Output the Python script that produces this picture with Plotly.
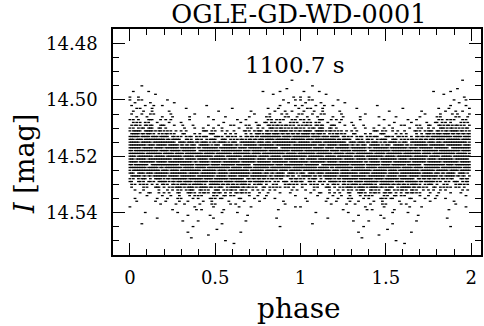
import plotly.graph_objects as go

# ---------------- data ----------------
title_text = "OGLE-GD-WD-0001"
period_label = "1100.7 s"
x_title = "phase"
y_title = "<i>I</i> [mag]"

x_tick_values = [0, 0.5, 1, 1.5, 2]
x_tick_labels = ["0", "0.5", "1", "1.5", "2"]
y_tick_values = [14.48, 14.50, 14.52, 14.54]
y_tick_labels = ["14.48", "14.50", "14.52", "14.54"]

# magnitudes are quantised in steps of 0.001 mag
mag_levels = [
    14.492, 14.493, 14.494, 14.495, 14.496, 14.497, 14.498, 14.499,
    14.500, 14.501, 14.502, 14.503, 14.504, 14.505, 14.506, 14.507,
    14.508, 14.509, 14.510, 14.511, 14.512, 14.513, 14.514, 14.515,
    14.516, 14.517, 14.518, 14.519, 14.520, 14.521, 14.522, 14.523,
    14.524, 14.525, 14.526, 14.527, 14.528, 14.529, 14.530, 14.531,
    14.532, 14.533, 14.534, 14.535, 14.536, 14.537, 14.538, 14.539,
    14.540, 14.541, 14.542, 14.543, 14.544, 14.545, 14.546, 14.547,
    14.548, 14.549, 14.550, 14.551,
]

# occupancy of each magnitude level over one cycle (phase 0 .. 0.99 in
# steps of 0.01); each hex digit covers 4 consecutive phase bins (MSB first)
phase_occupancy_hex = [
    "00000 00000 00000 00000 00000",
    "00000 00000 00000 00000 00010",
    "00000 00000 00000 00000 00000",
    "01000 00000 00000 00000 00000",
    "00000 00000 00000 00000 00080",
    "20100 00000 00000 00002 00800",
    "00010 00000 00000 00000 08000",
    "84000 00000 00000 00000 00008",
    "85000 20000 00000 00000 00204",
    "10080 02000 00000 00000 00040",
    "40421 00000 04000 00000 00804",
    "0a040 00040 00000 80000 41001",
    "20840 10000 00080 00100 04110",
    "410a0 08002 00000 00040 20481",
    "08201 04010 02008 00200 a0142",
    "a41c2 48010 00400 10800 52a14",
    "2a508 10200 00010 04021 9482a",
    "5a6c3 82104 02081 40a18 6b5a9",
    "a59c6 40082 10420 08512 3ad56",
    "be7d6 a9240 1ca24 41a5c d6fb5",
    "7dba5 6a182 41c09 2093a ef6db",
    "fdf7b e6a59 5c3a6 a4db7 ffbef",
    "ef7ff b7c69 a5e39 56b6e fbfdf",
    "fdfbf fe7bd bd6fa e7fde efffd",
    "ffdef dfb6e 7eb9f b5fef fbfef",
    "fefdf 7fbfe dff7f efbfd fe7ff",
    "dfffb efdfe 7ffbf fdeff bffdf",
    "ffbfe fdf7f efdff 7fefb ffefd",
    "f7fdf bfefd ffbf7 fdfef dfbff",
    "efdff fbf7e fdffb effdf 7fdfe",
    "fbfef dfffb 7efdf fbfdf effbf",
    "dfe7f ffbfd fefbf dfe7f fbdff",
    "ffdfb 7fefd fbffe fdf7f dffef",
    "bfffd efbff dfefb ffdfe fefbf",
    "e7bdf effdf bfefd ffefd dbe7a",
    "7edbf dfbfe ffdfb efdff b7ed9",
    "a5c9e b7fdf efbfd fe6db 5ac36",
    "c69a7 d6efb fdfef bfb7e a5396",
    "52a49 a6bd7 e9fb6 d7a5c 8a16a",
    "40a1c 95ebd 7dae5 fb6a3 2a948",
    "10804 24a5c 6a395 a6892 24012",
    "02184 90c3a 5a6c9 36a08 40820",
    "00201 08412 a0519 40210 80004",
    "10008 20a04 81a60 0c041 04000",
    "08010 40420 10802 01008 00200",
    "00002 01080 40a01 20000 00100",
    "80000 00002 00400 08100 00004",
    "00000 04001 20010 00000 01000",
    "00400 00800 00020 10000 00000",
    "00000 00020 01000 00400 00000",
    "00008 00000 00400 00000 02000",
    "00000 00100 80000 00800 00000",
    "01000 00000 00020 00000 00000",
    "00000 00004 00000 00000 00800",
    "00000 00000 00100 00000 00000",
    "00000 00020 00000 04000 00000",
    "00000 00000 02000 00000 00000",
    "00000 00008 00000 00000 00000",
    "00000 00000 00008 00000 00000",
    "00000 00000 00000 40000 00000",
]

phase_step = 0.01
cycles_shown = [0, 1]   # the folded cycle is plotted twice

# ---------------- build point list ----------------
phases, mags = [], []
for m, row in zip(mag_levels, phase_occupancy_hex):
    digits = row.replace(" ", "")
    for i, ch in enumerate(digits):
        v = int(ch, 16)
        for b in range(4):
            if v & (8 >> b):
                ph = round((i * 4 + b) * phase_step, 2)
                for c in cycles_shown:
                    phases.append(ph + c)
                    mags.append(m)

FONT = "DejaVu Serif"
X_RANGE = [-0.0991, 2.058]
Y_RANGE = [14.5551, 14.4748]

fig = go.Figure()
fig.add_trace(go.Scatter(
    x=phases, y=mags, mode="markers",
    marker=dict(symbol="line-ew", size=2, color="black",
                line=dict(color="black", width=1.3)),
    hoverinfo="skip", showlegend=False,
))
# empty trace so that the mirrored (top/right) tick axes are drawn
fig.add_trace(go.Scatter(x=[], y=[], xaxis="x2", yaxis="y2",
                         showlegend=False, hoverinfo="skip"))

tick_common = dict(
    ticks="inside", ticklen=12, tickwidth=1, tickcolor="black",
    showgrid=False, zeroline=False,
    tickfont=dict(family=FONT, size=18, color="black"),
)

x_minor = dict(ticks="inside", ticklen=6, tickwidth=1, tickcolor="black",
               tickmode="linear", tick0=0, dtick=0.1)
y_minor = dict(ticks="inside", ticklen=6, tickwidth=1, tickcolor="black",
               tickmode="linear", tick0=14.48, dtick=0.005)

fig.update_layout(
    xaxis=dict(range=X_RANGE, tickmode="array", tickvals=x_tick_values,
               ticktext=x_tick_labels, ticklabelstandoff=6,
               showline=True, linecolor="black", linewidth=1.5, mirror=True,
               minor=x_minor, **tick_common),
    yaxis=dict(range=Y_RANGE, tickmode="array", tickvals=y_tick_values,
               ticktext=y_tick_labels, ticklabelstandoff=10,
               showline=True, linecolor="black", linewidth=1.5, mirror=True,
               minor=y_minor, **tick_common),
    xaxis2=dict(range=X_RANGE, overlaying="x", side="top", anchor="y2",
                tickmode="array", tickvals=x_tick_values,
                showticklabels=False, showline=False,
                minor=x_minor, **tick_common),
    yaxis2=dict(range=Y_RANGE, overlaying="y", side="right", anchor="x2",
                tickmode="array", tickvals=y_tick_values,
                showticklabels=False, showline=False,
                minor=y_minor, **tick_common),
)

fig.update_layout(
    width=484, height=326,
    margin=dict(l=113, r=1, t=29, b=71),
    paper_bgcolor="white", plot_bgcolor="white",
    font=dict(family=FONT, color="black"),
    title=dict(text=title_text, x=0.505, xref="paper", xanchor="center",
               y=0.958, yref="container", yanchor="middle",
               font=dict(family=FONT, size=25.5, color="black")),
    annotations=[
        dict(text=period_label, x=0.965, y=14.4875, xref="x", yref="y",
             showarrow=False, xanchor="center", yanchor="middle",
             font=dict(family=FONT, size=23, color="black")),
        dict(text=x_title, x=0.505, y=0, xref="paper", yref="paper",
             showarrow=False, xanchor="center", yanchor="middle", yshift=-53,
             font=dict(family=FONT, size=28, color="black")),
        dict(text=y_title, x=0, y=0.403, xref="paper", yref="paper",
             showarrow=False, xanchor="center", yanchor="middle", xshift=-88,
             textangle=-90,
             font=dict(family=FONT, size=27, color="black")),
    ],
)

fig.write_html("out.html")
